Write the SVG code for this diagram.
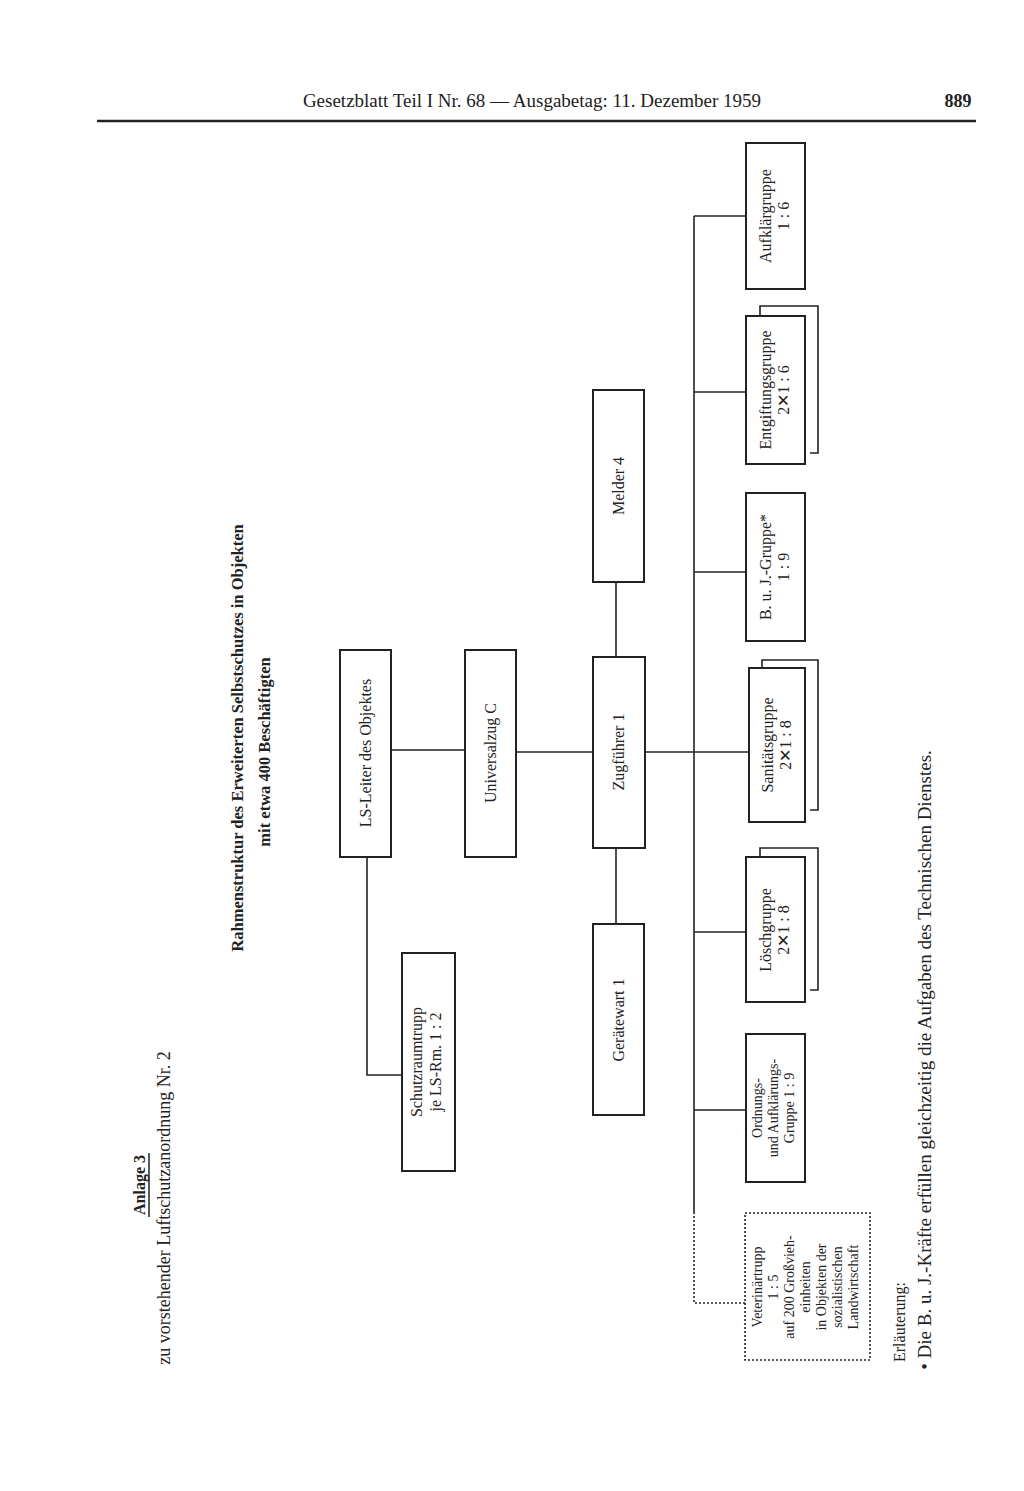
<svg xmlns="http://www.w3.org/2000/svg" width="1024" height="1491" viewBox="0 0 1024 1491">
<style>
text{font-family:"Liberation Serif","DejaVu Serif",serif;font-size:16px;fill:#222;text-anchor:middle}
.b{font-weight:bold}
.s{font-size:14px}
.box{fill:none;stroke:#222;stroke-width:2}
.ln{fill:none;stroke:#222;stroke-width:1.6}
.dot{fill:none;stroke:#222;stroke-width:1.6;stroke-dasharray:2 2}
</style>
<rect width="1024" height="1491" fill="#fff"/>
<g id="header">
<text x="532" y="107" style="font-size:19px">Gesetzblatt Teil I Nr. 68 — Ausgabetag: 11. Dezember 1959</text>
<text x="958" y="107" class="b" style="font-size:18px">889</text>
<line x1="97" y1="121" x2="976" y2="121" stroke="#222" stroke-width="2.5"/>
</g>
<g id="side">
<g transform="translate(145,1185) rotate(-90)"><text class="b">Anlage 3</text><line x1="-32" y1="4" x2="32" y2="4" stroke="#222" stroke-width="1.5"/></g>
<g transform="translate(170,1208) rotate(-90)"><text style="font-size:18px">zu vorstehender Luftschutzanordnung Nr. 2</text></g>
<g transform="translate(243,738) rotate(-90)"><text class="b" style="font-size:16.5px">Rahmenstruktur des Erweiterten Selbstschutzes in Objekten</text></g>
<g transform="translate(270,752) rotate(-90)"><text class="b" style="font-size:16.5px">mit etwa 400 Beschäftigten</text></g>
<g transform="translate(905,1322) rotate(-90)"><text>Erläuterung:</text></g>
<g transform="translate(931,1060) rotate(-90)"><text style="font-size:19px">• Die B. u. J.-Kräfte erfüllen gleichzeitig die Aufgaben des Technischen Dienstes.</text></g>
</g>
<g id="connectors">
<line class="ln" x1="391" y1="750" x2="465" y2="750"/>
<line class="ln" x1="516" y1="752" x2="593" y2="752"/>
<polyline class="ln" points="367,857 367,1075 402,1075"/>
<line class="ln" x1="616" y1="582" x2="616" y2="657"/>
<line class="ln" x1="616" y1="848" x2="616" y2="924"/>
<line class="ln" x1="645" y1="752" x2="694" y2="752"/>
<line class="ln" x1="694" y1="216" x2="694" y2="1212" stroke-width="2"/>
<polyline class="dot" points="694,1212 694,1303 745,1303"/>
<line class="ln" x1="694" y1="216" x2="746" y2="216"/>
<line class="ln" x1="694" y1="392" x2="746" y2="392"/>
<line class="ln" x1="694" y1="572" x2="746" y2="572"/>
<line class="ln" x1="694" y1="752" x2="749" y2="752"/>
<line class="ln" x1="694" y1="932" x2="746" y2="932"/>
<line class="ln" x1="694" y1="1110" x2="746" y2="1110"/>
</g>
<g id="ls-leiter"><rect class="box" x="340" y="650" width="51" height="207" stroke-width="3"/><g transform="translate(371,753) rotate(-90)"><text>LS-Leiter des Objektes</text></g></g>
<g id="universalzug"><rect class="box" x="465" y="650" width="51" height="207"/><g transform="translate(496,753) rotate(-90)"><text>Universalzug C</text></g></g>
<g id="schutzraum"><rect class="box" x="402" y="953" width="53" height="218"/><g transform="translate(422,1062) rotate(-90)"><text>Schutzraumtrupp</text><text y="19">je LS-Rm. 1 : 2</text></g></g>
<g id="zugfuehrer"><rect class="box" x="593" y="657" width="52" height="191"/><g transform="translate(624,752) rotate(-90)"><text>Zugführer 1</text></g></g>
<g id="melder"><rect class="box" x="593" y="390" width="51" height="192"/><g transform="translate(624,486) rotate(-90)"><text>Melder 4</text></g></g>
<g id="geraetewart"><rect class="box" x="593" y="924" width="51" height="191"/><g transform="translate(624,1020) rotate(-90)"><text>Gerätewart 1</text></g></g>
<g id="aufklaer"><rect class="box" x="746" y="143" width="59" height="146"/><g transform="translate(771,216) rotate(-90)"><text>Aufklärgruppe</text><text y="18">1 : 6</text></g></g>
<g id="entgiftung"><rect class="box" x="746" y="316" width="59" height="148"/><polyline class="ln" points="760,316 760,306 818,306 818,453 810,453"/><g transform="translate(771,390) rotate(-90)"><text>Entgiftungsgruppe</text><text y="18">2✕1 : 6</text></g></g>
<g id="buj"><rect class="box" x="746" y="493" width="59" height="148"/><g transform="translate(771,567) rotate(-90)"><text>B. u. J.-Gruppe*</text><text y="18">1 : 9</text></g></g>
<g id="sanitaet"><rect class="box" x="749" y="668" width="56" height="154"/><polyline class="ln" points="762,668 762,660 818,660 818,810 810,810"/><g transform="translate(773,745) rotate(-90)"><text>Sanitätsgruppe</text><text y="18">2✕1 : 8</text></g></g>
<g id="loesch"><rect class="box" x="746" y="857" width="59" height="145"/><polyline class="ln" points="760,857 760,848 818,848 818,990 810,990"/><g transform="translate(771,930) rotate(-90)"><text>Löschgruppe</text><text y="18">2✕1 : 8</text></g></g>
<g id="ordnung"><rect class="box" x="746" y="1034" width="59" height="148"/><g transform="translate(762,1108) rotate(-90)"><text class="s">Ordnungs-</text><text class="s" y="16">und Aufklärungs-</text><text class="s" y="32">Gruppe 1 : 9</text></g></g>
<g id="veterinaer"><rect class="dot" x="745" y="1213" width="125" height="147"/><g transform="translate(762,1287) rotate(-90)"><text class="s">Veterinärtrupp</text><text class="s" y="16">1 : 5</text><text class="s" y="32">auf 200 Großvieh-</text><text class="s" y="48">einheiten</text><text class="s" y="64">in Objekten der</text><text class="s" y="80">sozialistischen</text><text class="s" y="96">Landwirtschaft</text></g></g>
</svg>
